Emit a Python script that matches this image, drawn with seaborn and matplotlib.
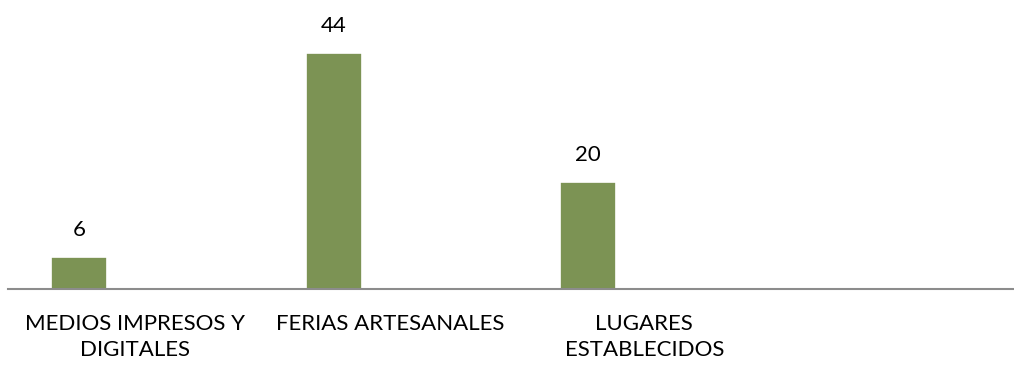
import matplotlib
matplotlib.use("Agg")
import matplotlib.pyplot as plt
import seaborn as sns
import pandas as pd
import numpy as np

categories = ["MEDIOS IMPRESOS Y\nDIGITALES", "FERIAS ARTESANALES", "LUGARES\nESTABLECIDOS", " "]
values = [6, 44, 20, np.nan]
series = ["Serie 1", "Serie 2", "Serie 3"]

sns.set_theme(style="white")
plt.rcParams["font.family"] = ["Lato", "DejaVu Sans"]

rows = []
for c, v in zip(categories, values):
    rows.append({"cat": c, "serie": series[0], "val": v})
    for s in series[1:]:
        rows.append({"cat": c, "serie": s, "val": np.nan})
df = pd.DataFrame(rows)

fig = plt.figure(figsize=(10.14, 3.67), dpi=100)
ax = fig.add_axes([8 / 1014, 0.2125, 1006 / 1014, 0.7316])

sns.barplot(data=df, x="cat", y="val", hue="serie", order=categories,
            hue_order=series, palette=["#7F9D4A"] * 3, width=0.66,
            dodge=True, legend=False, ax=ax, edgecolor="white", linewidth=1.2,
            errorbar=None)

for cont in ax.containers:
    labels = [f"{v:.0f}" if np.isfinite(v) else "" for v in cont.datavalues]
    ax.bar_label(cont, labels=labels, padding=12, fontsize=16, color="#000000")

ax.set_xlim(-0.5, 3.453)
ax.set_ylim(0, 50)
ax.set_xlabel("")
ax.set_ylabel("")
ax.set_yticks([])
for side in ["left", "right", "top"]:
    ax.spines[side].set_visible(False)
ax.spines["bottom"].set_color("#8C8C8C")
ax.spines["bottom"].set_linewidth(1.5)
ax.tick_params(axis="x", length=0, pad=18, labelsize=16, colors="#000000")
for t in ax.get_xticklabels():
    t.set_linespacing(1.35)
    t.set_ha("center")

fig.savefig("out.png", dpi=100, facecolor="white")
